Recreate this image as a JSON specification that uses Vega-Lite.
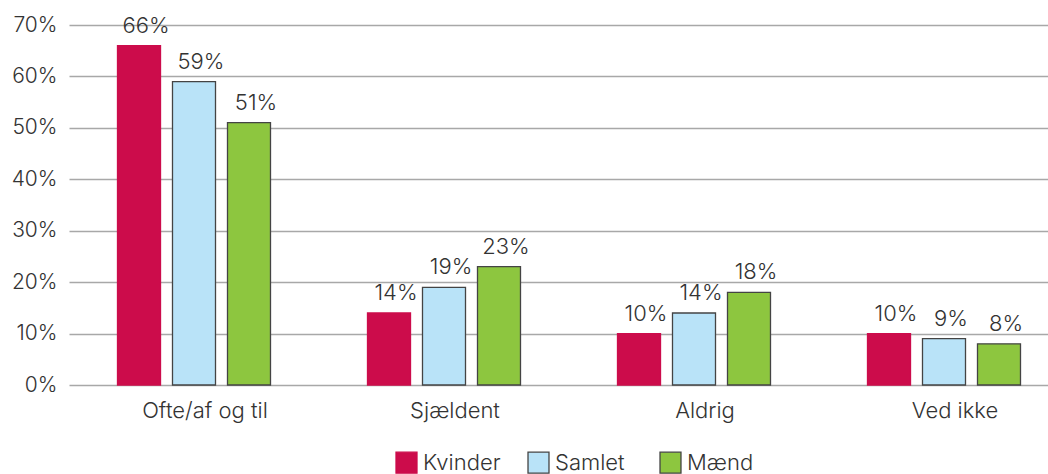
{
  "$schema": "https://vega.github.io/schema/vega-lite/v6.json",
  "width": 980,
  "height": 360,
  "autosize": {"type": "none"},
  "padding": {"left": 68, "top": 25, "right": 0, "bottom": 89},
  "background": "white",
  "config": {
    "view": {"stroke": null},
    "font": "Inter",
    "text": {"font": "Inter"}
  },
  "data": {
    "values": [
      {"kategori": "Ofte/af og til", "gruppe": "Kvinder", "andel": 0.66},
      {"kategori": "Ofte/af og til", "gruppe": "Samlet", "andel": 0.59},
      {"kategori": "Ofte/af og til", "gruppe": "Mænd", "andel": 0.51},
      {"kategori": "Sjældent", "gruppe": "Kvinder", "andel": 0.14},
      {"kategori": "Sjældent", "gruppe": "Samlet", "andel": 0.19},
      {"kategori": "Sjældent", "gruppe": "Mænd", "andel": 0.23},
      {"kategori": "Aldrig", "gruppe": "Kvinder", "andel": 0.10},
      {"kategori": "Aldrig", "gruppe": "Samlet", "andel": 0.14},
      {"kategori": "Aldrig", "gruppe": "Mænd", "andel": 0.18},
      {"kategori": "Ved ikke", "gruppe": "Kvinder", "andel": 0.10},
      {"kategori": "Ved ikke", "gruppe": "Samlet", "andel": 0.09},
      {"kategori": "Ved ikke", "gruppe": "Mænd", "andel": 0.08}
    ]
  },
  "encoding": {
    "x": {
      "field": "kategori",
      "type": "nominal",
      "sort": ["Ofte/af og til", "Sjældent", "Aldrig", "Ved ikke"],
      "scale": {"range": [1, 1001], "paddingInner": 0.388, "paddingOuter": 0.194},
      "axis": {
        "title": null,
        "labelAngle": 0,
        "ticks": false,
        "domain": false,
        "labelFontSize": 22,
        "labelFontWeight": 300,
        "labelColor": "#333333",
        "labelPadding": 15,
        "labelFont": "Inter",
        "labelOffset": 11
      }
    },
    "xOffset": {
      "field": "gruppe",
      "type": "nominal",
      "sort": ["Kvinder", "Samlet", "Mænd"],
      "scale": {"paddingInner": 0.218, "paddingOuter": 0}
    },
    "y": {
      "field": "andel",
      "type": "quantitative",
      "scale": {"domain": [0, 0.7], "nice": false},
      "axis": {
        "title": null,
        "format": ".0%",
        "values": [0, 0.1, 0.2, 0.3, 0.4, 0.5, 0.6, 0.7],
        "ticks": false,
        "domain": false,
        "gridColor": "#a8a8a8",
        "gridWidth": 1.5,
        "labelFontSize": 21,
        "labelFontWeight": 300,
        "labelColor": "#333333",
        "labelPadding": 11,
        "labelFont": "Inter"
      }
    }
  },
  "layer": [
    {
      "mark": {"type": "bar", "strokeWidth": 1.3},
      "encoding": {
        "color": {
          "field": "gruppe",
          "type": "nominal",
          "sort": ["Kvinder", "Samlet", "Mænd"],
          "scale": {"domain": ["Kvinder", "Samlet", "Mænd"], "range": ["#CC0C4B", "#B9E3F8", "#8DC63F"]},
          "legend": {
            "title": null,
            "orient": "none",
            "direction": "horizontal",
            "legendX": 327,
            "legendY": 426,
            "gridAlign": "all",
            "symbolType": "square",
            "symbolSize": 440,
            "symbolOpacity": 1,
            "symbolStrokeWidth": 1.3,
            "labelFontSize": 22,
            "labelFontWeight": 300,
            "labelColor": "#333333",
            "labelFont": "Inter",
            "labelOffset": 5,
            "columnPadding": 24
          }
        },
        "stroke": {
          "field": "gruppe",
          "type": "nominal",
          "sort": ["Kvinder", "Samlet", "Mænd"],
          "scale": {"domain": ["Kvinder", "Samlet", "Mænd"], "range": ["#CC0C4B", "#444444", "#444444"]},
          "legend": {
            "title": null,
            "orient": "none",
            "direction": "horizontal",
            "legendX": 327,
            "legendY": 426,
            "gridAlign": "all",
            "symbolType": "square",
            "symbolSize": 440,
            "symbolOpacity": 1,
            "symbolStrokeWidth": 1.3,
            "labelFontSize": 22,
            "labelFontWeight": 300,
            "labelColor": "#333333",
            "labelFont": "Inter",
            "labelOffset": 5,
            "columnPadding": 24
          }
        }
      }
    },
    {
      "mark": {"type": "text", "baseline": "alphabetic", "dy": -13, "dx": 7, "fontSize": 22, "fontWeight": 300, "color": "#333333", "font": "Inter"},
      "encoding": {
        "text": {"field": "andel", "type": "quantitative", "format": ".0%"}
      }
    }
  ]
}
